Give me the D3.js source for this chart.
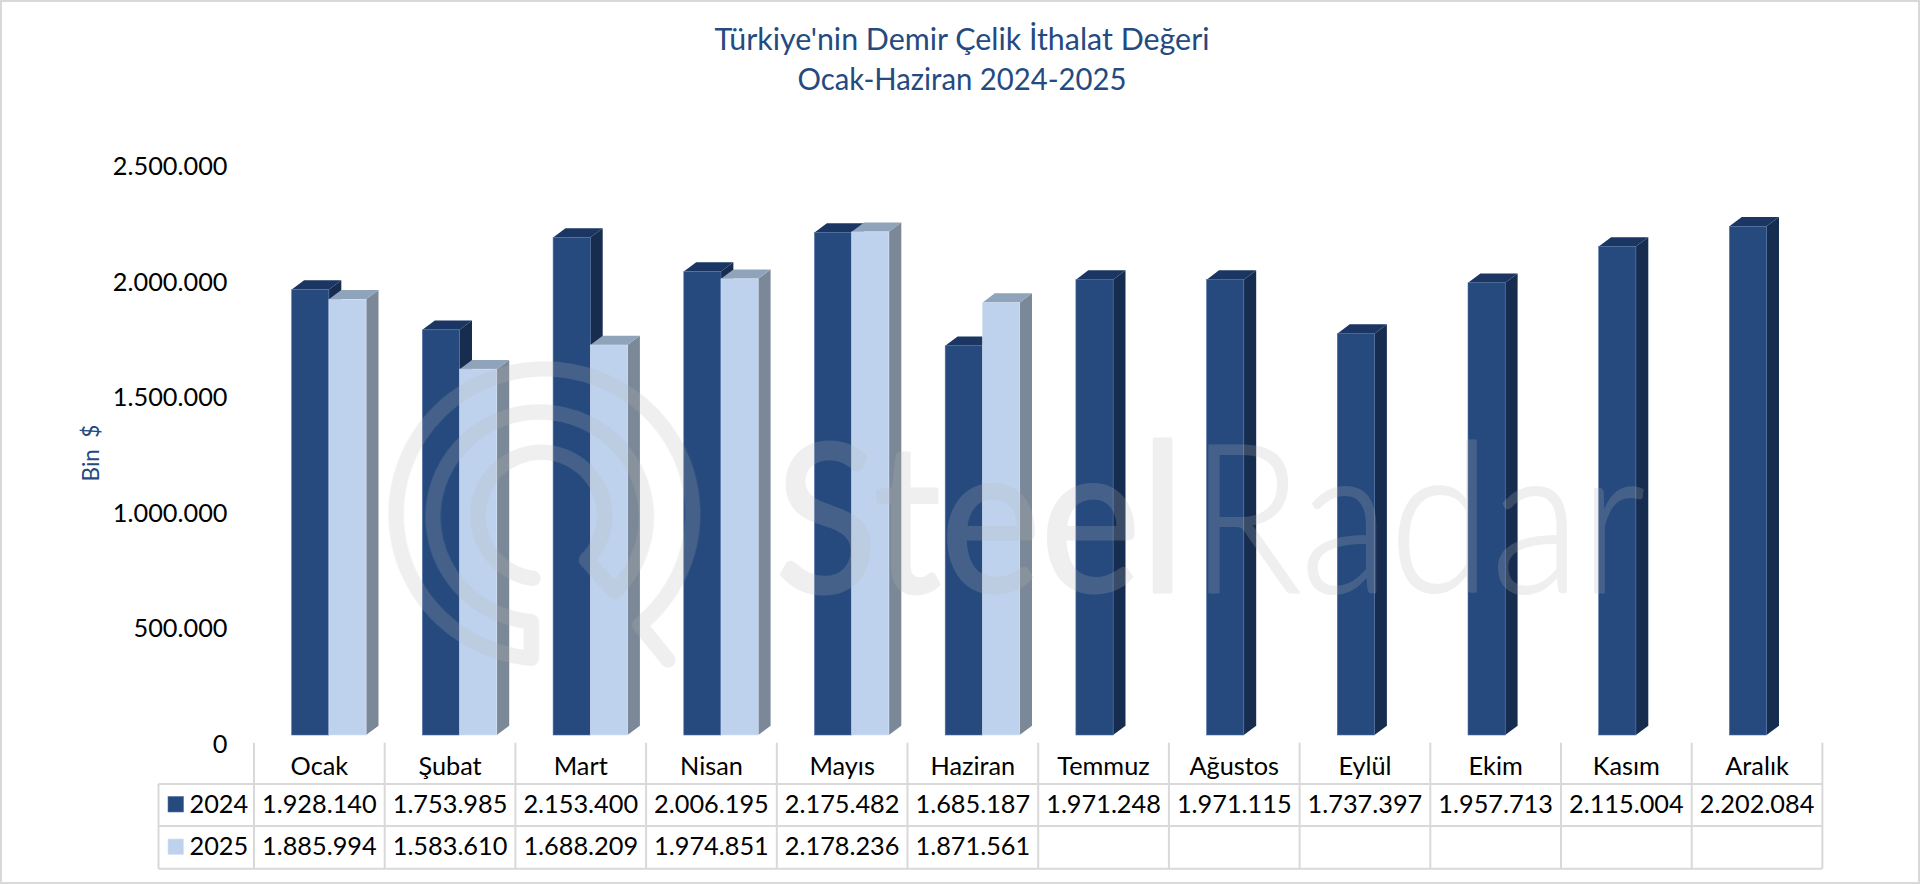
<!DOCTYPE html>
<html lang="tr">
<head>
<meta charset="utf-8">
<script src="https://cdnjs.cloudflare.com/ajax/libs/d3/7.9.0/d3.min.js"></script>
<style>
html,body{margin:0;padding:0;background:#fff;overflow:hidden}
svg{display:block}
text{font-family:Lato,"Open Sans",sans-serif}
</style>
</head>
<body>
<svg id="c" width="1920" height="884"></svg>
<script>
const months = ["Ocak","Şubat","Mart","Nisan","Mayıs","Haziran","Temmuz","Ağustos","Eylül","Ekim","Kasım","Aralık"];
const series2024 = [1928140,1753985,2153400,2006195,2175482,1685187,1971248,1971115,1737397,1957713,2115004,2202084];
const series2025 = [1885994,1583610,1688209,1974851,2178236,1871561,null,null,null,null,null,null];
const seriesNames = ["2024","2025"];
const yTicks = [0,500000,1000000,1500000,2000000,2500000];
const titleLines = ["Türkiye'nin Demir Çelik İthalat Değeri","Ocak-Haziran 2024-2025"];
const yLabel = "Bin  $";

const palette = {
  "2024": {front:"#264a7e", side:"#172d50", top:"#1b3662", edge:"#4f70a3"},
  "2025": {front:"#bed2ee", side:"#7b8897", top:"#8fa3ba", edge:"#d5e1f3"}
};
const seriesData = [series2024, series2025];
const fmt = d3.formatLocale({decimal:",",thousands:".",grouping:[3],currency:["","$"]}).format(",d");

const svg = d3.select("#c");
const W = 1920, H = 884;
const FS = 25.3;

svg.append("rect").attr("x",1).attr("y",1).attr("width",W-2).attr("height",H-2)
  .attr("fill","#fff").attr("stroke","#d9d9d9").attr("stroke-width",2);

// scales
const x = d3.scaleBand().domain(months).range([254,1822.4]);
const y = d3.scaleLinear().domain([0,2500000]).range([735,157.5]);
const barW = 37.2, lead = 37.7, dx = 12.4, dy = 9.3;

// title
const titleWidths = [495,329];
svg.append("g").selectAll("text").data(titleLines).join("text")
  .attr("x",962).attr("y",(d,i)=>50+i*40)
  .attr("text-anchor","middle").attr("font-size",30.5).attr("fill","#244a80")
  .attr("textLength",(d,i)=>titleWidths[i]).attr("lengthAdjust","spacingAndGlyphs")
  .text(d=>d);

// y axis
const yAxis = d3.axisLeft(y).tickValues(yTicks).tickSize(0).tickPadding(0).tickFormat(d=>d===0?"0":fmt(d));
const gy = svg.append("g").attr("transform","translate(227.5,0)").call(yAxis);
gy.select(".domain").remove();
gy.selectAll("text").attr("font-size",FS).attr("fill","#000").attr("font-family","Lato")
  .attr("dy",null).attr("y",17);

svg.append("text")
  .attr("transform","translate(99,453) rotate(-90)")
  .attr("text-anchor","middle").attr("font-size",22.5).attr("fill","#244a80")
  .style("white-space","pre")
  .text(yLabel);

// bars
const rows = [];
months.forEach((m,i)=>seriesData.forEach((s,k)=>{ if(s[i]!=null) rows.push({m,k,v:s[i],name:seriesNames[k]}); }));
const bars = svg.append("g").selectAll("g").data(rows).join("g");
const X0 = d=>x(d.m)+lead+d.k*barW;
bars.append("path").attr("fill",d=>palette[d.name].side)
  .attr("d",d=>{const a=X0(d)+barW,t=y(d.v),b=y(0);return `M${a},${t}L${a+dx},${t-dy}L${a+dx},${b-dy}L${a},${b}Z`;});
bars.append("path").attr("fill",d=>palette[d.name].top)
  .attr("d",d=>{const a=X0(d),t=y(d.v);return `M${a},${t}L${a+dx},${t-dy}L${a+barW+dx},${t-dy}L${a+barW},${t}Z`;});
bars.append("rect").attr("x",X0).attr("y",d=>y(d.v)).attr("width",barW).attr("height",d=>y(0)-y(d.v))
  .attr("fill",d=>palette[d.name].front).attr("stroke",d=>palette[d.name].edge).attr("stroke-width",0.6);

// data table
const rowLines = [784,826,868.7], tableTop = 742.7, tableLeft = 158.5;
const grid = svg.append("g").attr("stroke","#d9d9d9").attr("stroke-width",2).attr("fill","none");
rowLines.forEach(v=>grid.append("line").attr("x1",tableLeft).attr("x2",x.range()[1]).attr("y1",v).attr("y2",v));
grid.append("line").attr("x1",tableLeft).attr("x2",tableLeft).attr("y1",rowLines[0]).attr("y2",rowLines[2]);
[...months.map(m=>x(m)),x.range()[1]].forEach(v=>grid.append("line").attr("x1",v).attr("x2",v).attr("y1",tableTop).attr("y2",rowLines[2]));

const cx = m=>x(m)+x.bandwidth()/2;
svg.append("g").selectAll("text").data(months).join("text")
  .attr("x",cx).attr("y",775).attr("text-anchor","middle").attr("font-size",FS).attr("fill","#000").text(d=>d);
const rowBase = [812.5,855];
seriesData.forEach((s,k)=>{
  svg.append("g").selectAll("text").data(months.map((m,i)=>({m,v:s[i]})).filter(d=>d.v!=null)).join("text")
    .attr("x",d=>cx(d.m)).attr("y",rowBase[k]).attr("text-anchor","middle").attr("font-size",FS).attr("fill","#000")
    .text(d=>fmt(d.v));
  svg.append("rect").attr("x",168).attr("y",rowBase[k]-16).attr("width",15.5).attr("height",15.5)
    .attr("fill",palette[seriesNames[k]].front).attr("stroke",palette[seriesNames[k]].edge).attr("stroke-width",0.6);
  svg.append("text").attr("x",189.5).attr("y",rowBase[k]).attr("font-size",FS).attr("fill","#000").text(seriesNames[k]);
});

// watermark
const wm = svg.append("g").attr("opacity",0.22).attr("pointer-events","none");
wm.append("path")
  .attr("transform","translate(368,350) scale(0.33333)")
  .attr("fill","none").attr("stroke","#b6b6b6").attr("stroke-width",46)
  .attr("stroke-linecap","round").attr("stroke-linejoin","round")
  .attr("d","M900,930 L815,825 A445,435 0 1 0 490,925 L490,815 A320,315 0 1 1 740,725 L655,630 A190,190 0 1 0 495,685");
wm.append("text").attr("x",775).attr("y",592).attr("font-size",207).attr("font-weight",400)
  .attr("fill","#b6b6b6").attr("stroke","#b6b6b6").attr("stroke-width",3).attr("stroke-linejoin","round")
  .attr("textLength",410).attr("lengthAdjust","spacingAndGlyphs").text("Steel");
wm.append("text").attr("x",1190).attr("y",592).attr("font-size",207).attr("font-weight",300)
  .attr("fill","#b6b6b6").attr("stroke","#b6b6b6").attr("stroke-width",2).attr("stroke-linejoin","round")
  .attr("textLength",455).attr("lengthAdjust","spacingAndGlyphs").text("Radar");
</script>
</body>
</html>
